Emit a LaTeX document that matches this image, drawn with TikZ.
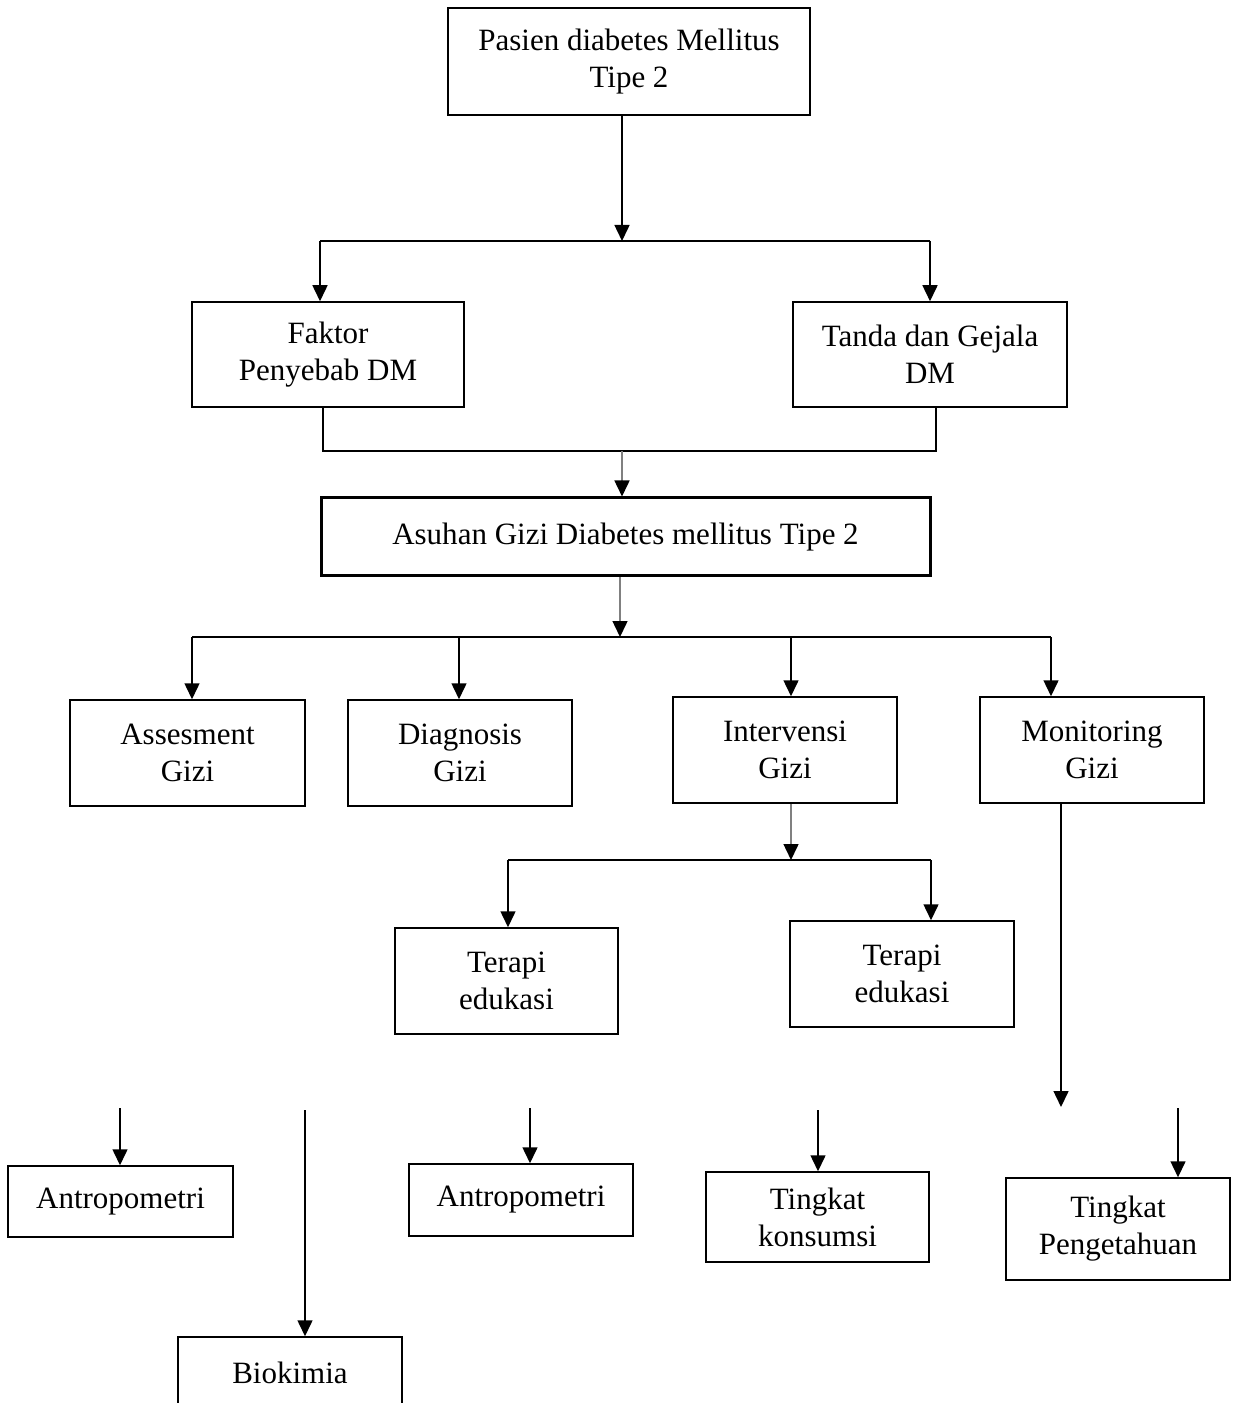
\documentclass[tikz,border=0pt]{standalone}
\usepackage{fontspec}
\setmainfont{Liberation Serif}
\usetikzlibrary{arrows.meta}
\begin{document}
\begin{tikzpicture}[x=0.4pt,y=-0.4pt,
  box/.style={draw,line width=0.6pt,align=center,inner sep=0pt,font=\fontsize{12.4}{14.8}\selectfont},
  sz/.style 2 args={minimum width=#1*0.4pt,minimum height=#2*0.4pt},
  arr/.style={line width=0.6pt,-{Triangle[length=6.4pt,width=6pt,color=black]}},
  faint/.style={draw=black!50}]
\path[use as bounding box,clip] (0,0) rectangle (1237,1403);
% boxes
\node[box,sz={362}{107}] (pasien) at (629,61.5) {Pasien diabetes Mellitus\\Tipe 2};
\node[box,sz={272}{105}] (faktor) at (328,354.5) {Faktor\\Penyebab DM};
\node[box,sz={274}{105}] (tanda) at (930,354.5) {Tanda dan Gejala\\DM};
\node[box,sz={609}{78},line width=1.2pt] (asuhan) at (625.5,537) {Asuhan Gizi Diabetes mellitus Tipe 2};
\node[box,sz={235}{106}] (assess) at (187.5,753) {Assesment\\Gizi};
\node[box,sz={224}{106}] (diag) at (460,753) {Diagnosis\\Gizi};
\node[box,sz={224}{106}] (interv) at (785,750) {Intervensi\\Gizi};
\node[box,sz={224}{106}] (monit) at (1092,750) {Monitoring\\Gizi};
\node[box,sz={223}{106}] (terapiA) at (506.5,981) {Terapi\\edukasi};
\node[box,sz={224}{106}] (terapiB) at (902,974) {Terapi\\edukasi};
\node[box,sz={225}{71}] (antroA) at (120.5,1201.5) {Antropometri};
\node[box,sz={224}{71}] (bio) at (290,1372.5) {Biokimia};
\node[box,sz={224}{72}] (antroB) at (521,1200) {Antropometri};
\node[box,sz={223}{90}] (konsumsi) at (817.5,1217) {Tingkat\\konsumsi};
\node[box,sz={224}{102}] (penget) at (1118,1229) {Tingkat\\Pengetahuan};
% junctions
\coordinate (j1) at (622,241);
\coordinate (j1l) at (320,241);
\coordinate (j1r) at (930,241);
\coordinate (bl) at (323,451);
\coordinate (br) at (936,451);
\coordinate (j2) at (622,451);
\coordinate (j3) at (620,637);
\coordinate (j3a) at (192,637);
\coordinate (j3b) at (459,637);
\coordinate (j3c) at (791,637);
\coordinate (j3d) at (1051,637);
\coordinate (j4) at (791,860);
\coordinate (j4l) at (508,860);
\coordinate (j4r) at (931,860);
\coordinate (mk) at (1061,1107);
\coordinate (sA) at (120,1108);
\coordinate (sB) at (305,1110);
\coordinate (sC) at (530,1108);
\coordinate (sD) at (818,1110);
\coordinate (sE) at (1178,1108);
% connectors
\draw[arr] (j1 |- pasien.south) -- (j1);
\draw[line width=0.6pt] (j1l) -- (j1r);
\draw[arr] (j1l) -- (j1l |- faktor.north);
\draw[arr] (j1r) -- (j1r |- tanda.north);
\draw[line width=0.6pt] (bl |- faktor.south) -- (bl) -- (br) -- (br |- tanda.south);
\draw[arr,faint] (j2) -- (j2 |- asuhan.north);
\draw[arr,faint] (j3 |- asuhan.south) -- (j3);
\draw[line width=0.6pt] (j3a) -- (j3d);
\foreach \j/\n in {j3a/assess,j3b/diag,j3c/interv,j3d/monit}
  \draw[arr] (\j) -- (\j |- \n.north);
\draw[arr,faint] (j4 |- interv.south) -- (j4);
\draw[line width=0.6pt] (j4l) -- (j4r);
\draw[arr] (j4l) -- (j4l |- terapiA.north);
\draw[arr] (j4r) -- (j4r |- terapiB.north);
\draw[arr] (mk |- monit.south) -- (mk);
\foreach \s/\n in {sA/antroA,sB/bio,sC/antroB,sD/konsumsi,sE/penget}
  \draw[arr] (\s) -- (\s |- \n.north);
\end{tikzpicture}
\end{document}
